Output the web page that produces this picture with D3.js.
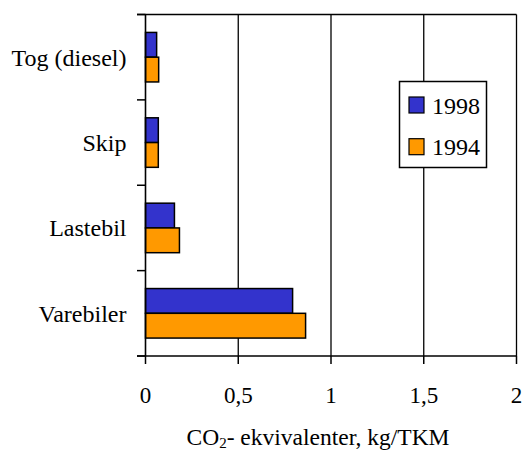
<!DOCTYPE html>
<html><head><meta charset="utf-8">
<script src="https://cdn.jsdelivr.net/npm/d3@7"></script>
<style>body{margin:0;background:#fff}svg{display:block}text{font-family:"Liberation Serif","Times New Roman",Times,serif}</style>
</head><body>
<svg id="c" width="524" height="452"></svg>
<script>
const categories = ["Tog (diesel)", "Skip", "Lastebil", "Varebiler"];
const seriesNames = ["1998", "1994"];
const values1998 = [0.06, 0.069, 0.156, 0.793];
const values1994 = [0.071, 0.069, 0.183, 0.863];
const tickValues = [0, 0.5, 1, 1.5, 2];
const tickLabels = ["0", "0,5", "1", "1,5", "2"];
const colors = ["#3333CC", "#FF9900"];

(function () {
const svg = d3.select("#c");
const pL = 145.5, pR = 516.5, pT = 14.5, pB = 356;

const x = d3.scaleLinear().domain([0, 2]).range([pL, pR]);
const y = d3.scaleBand().domain(categories).range([pT, pB]).paddingInner(0).paddingOuter(0);
const groupPad = 0.21;
const inner = d3.scaleBand().domain(seriesNames)
  .range([y.bandwidth() * groupPad, y.bandwidth() * (1 - groupPad)]).padding(0);

// gridlines
svg.append("g").selectAll("line").data(tickValues.slice(1)).join("line")
  .attr("x1", d => x(d)).attr("x2", d => x(d))
  .attr("y1", pT).attr("y2", pB)
  .attr("stroke", "#000").attr("stroke-width", 1.3);
// top border
svg.append("line").attr("x1", 137).attr("x2", pR).attr("y1", pT).attr("y2", pT)
  .attr("stroke", "#000").attr("stroke-width", 1.5);

// bars
const series = [values1998, values1994];
categories.forEach((c, i) => {
  series.forEach((vals, s) => {
    svg.append("rect")
      .attr("x", x(0))
      .attr("y", y(c) + inner(seriesNames[s]))
      .attr("width", x(vals[i]) - x(0))
      .attr("height", inner.bandwidth())
      .attr("fill", colors[s])
      .attr("stroke", "#000").attr("stroke-width", 1.5);
  });
});

// y axis
const yAxis = svg.append("g").attr("transform", `translate(${pL},0)`);
yAxis.append("line").attr("x1", 0).attr("x2", 0).attr("y1", pT).attr("y2", pB)
  .attr("stroke", "#000").attr("stroke-width", 1.6);
const yTicks = categories.map(c => y(c)).concat([pB]);
yAxis.selectAll("line.t").data(yTicks).join("line").attr("class", "t")
  .attr("x1", -8.5).attr("x2", 0).attr("y1", d => d).attr("y2", d => d)
  .attr("stroke", "#000").attr("stroke-width", 1.5);
yAxis.selectAll("text").data(categories).join("text")
  .attr("x", -19).attr("y", d => y(d) + y.bandwidth() / 2)
  .attr("dy", "0.35em").attr("text-anchor", "end")
  .attr("font-size", 24).attr("fill", "#000")
  .text(d => d);

// x axis
const xAxis = svg.append("g").attr("transform", `translate(0,${pB})`);
xAxis.append("line").attr("x1", pL - 8.5).attr("x2", pR).attr("y1", 0).attr("y2", 0)
  .attr("stroke", "#000").attr("stroke-width", 1.6);
xAxis.selectAll("line.t").data(tickValues).join("line").attr("class", "t")
  .attr("x1", d => x(d)).attr("x2", d => x(d)).attr("y1", 0).attr("y2", 8)
  .attr("stroke", "#000").attr("stroke-width", 1.5);
xAxis.selectAll("text").data(tickValues).join("text")
  .attr("x", d => x(d)).attr("y", 47)
  .attr("text-anchor", "middle")
  .attr("font-size", 23).attr("fill", "#000")
  .text((d, i) => tickLabels[i]);

// axis title
const title = svg.append("text").attr("x", 318).attr("y", 445)
  .attr("text-anchor", "middle").attr("font-size", 23.5).attr("fill", "#000");
title.append("tspan").text("CO");
title.append("tspan").attr("font-size", 15).attr("dy", 3).text("2");
title.append("tspan").attr("dy", -3).text("- ekvivalenter, kg/TKM");

// legend
const lg = svg.append("g");
lg.append("rect").attr("x", 399.5).attr("y", 81.5).attr("width", 87).attr("height", 86)
  .attr("fill", "#fff").attr("stroke", "#000").attr("stroke-width", 1.5);
seriesNames.forEach((n, i) => {
  const yy = 97 + i * 41.7;
  lg.append("rect").attr("x", 409).attr("y", yy).attr("width", 15).attr("height", 16)
    .attr("fill", colors[i]).attr("stroke", "#000").attr("stroke-width", 1.2);
  lg.append("text").attr("x", 432).attr("y", yy + 16.5)
    .attr("font-size", 24).attr("fill", "#000").text(n);
});
})();
</script>
</body></html>
